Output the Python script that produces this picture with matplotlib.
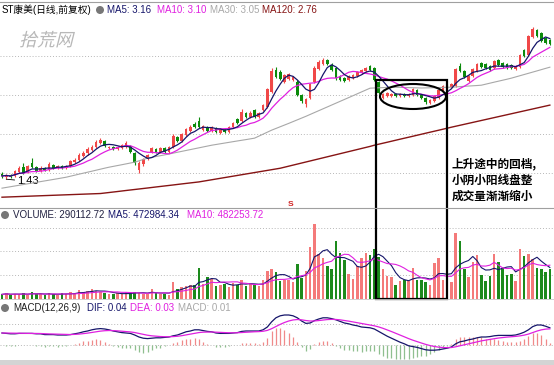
import numpy as np
import pandas as pd
import matplotlib
matplotlib.use("Agg")
import matplotlib.pyplot as plt
from matplotlib.patches import Rectangle, Ellipse, Circle, PathPatch
from matplotlib.lines import Line2D
from matplotlib.textpath import TextPath
from matplotlib.font_manager import FontProperties
from matplotlib.transforms import Affine2D, IdentityTransform

plt.rcParams['font.family'] = ['Liberation Sans', 'Noto Sans CJK SC', 'DejaVu Sans']

# daily candles
open_ = [1.495, 1.458, 1.483, 1.47, 1.52, 1.583, 1.52, 1.633, 1.583, 1.533,
         1.57, 1.545, 1.608, 1.57, 1.595, 1.57, 1.595, 1.645, 1.67, 1.72,
         1.758, 1.795, 1.833, 1.883, 1.908, 1.82, 1.833, 1.808, 1.82, 1.833,
         1.845, 1.758, 1.545, 1.62, 1.683, 1.77, 1.808, 1.77, 1.82, 1.77,
         1.833, 1.958, 1.908, 1.983, 2.033, 2.12, 2.158, 2.045, 2.083, 2.033,
         2.07, 2.008, 2.058, 2.02, 2.083, 2.183, 2.158, 2.258, 2.208, 2.295,
         2.208, 2.295, 2.333, 2.52, 2.795, 2.77, 2.645, 2.683, 2.67, 2.645,
         2.483, 2.37, 2.445, 2.645, 2.808, 2.87, 2.92, 2.858, 2.82, 2.72,
         2.695, 2.67, 2.695, 2.72, 2.758, 2.783, 2.845, 2.82, 2.645, 2.445,
         2.47, 2.47, 2.495, 2.47, 2.495, 2.47, 2.483, 2.545, 2.483, 2.445,
         2.383, 2.408, 2.445, 2.533, 2.608, 2.583, 2.595, 2.845, 2.783, 2.658,
         2.72, 2.783, 2.883, 2.87, 2.845, 2.82, 2.92, 2.883, 2.87, 2.858,
         2.808, 2.833, 3.045, 2.983, 3.208, 3.295, 3.258, 3.195, 3.17]
close = [1.47, 1.483, 1.458, 1.533, 1.57, 1.508, 1.595, 1.583, 1.533, 1.57,
         1.545, 1.62, 1.57, 1.595, 1.57, 1.595, 1.658, 1.67, 1.733, 1.758,
         1.808, 1.833, 1.895, 1.92, 1.845, 1.833, 1.808, 1.833, 1.858, 1.883,
         1.77, 1.633, 1.633, 1.683, 1.733, 1.82, 1.77, 1.82, 1.77, 1.833,
         1.97, 1.908, 1.995, 2.058, 2.083, 2.083, 2.083, 2.095, 2.033, 2.083,
         2.02, 2.058, 2.02, 2.083, 2.133, 2.133, 2.27, 2.208, 2.258, 2.208,
         2.258, 2.358, 2.558, 2.783, 2.708, 2.683, 2.733, 2.745, 2.708, 2.483,
         2.408, 2.433, 2.62, 2.82, 2.895, 2.92, 2.87, 2.795, 2.695, 2.67,
         2.658, 2.72, 2.733, 2.77, 2.795, 2.82, 2.795, 2.67, 2.508, 2.495,
         2.508, 2.495, 2.47, 2.495, 2.47, 2.495, 2.558, 2.483, 2.445, 2.395,
         2.42, 2.47, 2.545, 2.595, 2.57, 2.62, 2.808, 2.783, 2.708, 2.72,
         2.808, 2.87, 2.833, 2.82, 2.795, 2.908, 2.858, 2.833, 2.82, 2.82,
         2.845, 2.983, 2.97, 3.22, 3.308, 3.22, 3.158, 3.133, 3.12]
high = [1.52, 1.495, 1.495, 1.545, 1.595, 1.633, 1.608, 1.695, 1.595, 1.595,
        1.583, 1.645, 1.62, 1.608, 1.608, 1.608, 1.67, 1.695, 1.758, 1.783,
        1.833, 1.858, 1.92, 1.945, 1.92, 1.845, 1.845, 1.845, 1.87, 1.908,
        1.858, 1.77, 1.658, 1.695, 1.745, 1.833, 1.82, 1.833, 1.833, 1.845,
        1.995, 1.97, 2.008, 2.07, 2.108, 2.145, 2.208, 2.108, 2.095, 2.095,
        2.083, 2.07, 2.07, 2.095, 2.145, 2.195, 2.308, 2.27, 2.283, 2.308,
        2.27, 2.37, 2.57, 2.82, 2.833, 2.795, 2.745, 2.758, 2.72, 2.67,
        2.495, 2.445, 2.633, 2.845, 2.92, 2.945, 2.933, 2.883, 2.833, 2.733,
        2.708, 2.733, 2.745, 2.783, 2.808, 2.833, 2.858, 2.833, 2.658, 2.508,
        2.52, 2.508, 2.508, 2.508, 2.508, 2.508, 2.57, 2.558, 2.495, 2.458,
        2.433, 2.483, 2.558, 2.608, 2.62, 2.633, 2.82, 2.883, 2.795, 2.733,
        2.82, 2.883, 2.895, 2.883, 2.858, 2.92, 2.933, 2.895, 2.883, 2.87,
        2.858, 2.995, 3.058, 3.233, 3.333, 3.308, 3.27, 3.208, 3.183]
low = [1.445, 1.43, 1.445, 1.458, 1.508, 1.495, 1.508, 1.57, 1.52, 1.52,
       1.533, 1.533, 1.558, 1.558, 1.558, 1.558, 1.583, 1.633, 1.658, 1.708,
       1.733, 1.783, 1.82, 1.87, 1.833, 1.808, 1.795, 1.795, 1.808, 1.82,
       1.758, 1.608, 1.508, 1.595, 1.67, 1.758, 1.758, 1.758, 1.758, 1.758,
       1.82, 1.895, 1.895, 1.97, 2.02, 2.07, 2.07, 2.033, 2.02, 2.02,
       2.008, 1.995, 2.008, 2.008, 2.07, 2.12, 2.145, 2.195, 2.195, 2.195,
       2.195, 2.283, 2.32, 2.508, 2.695, 2.67, 2.633, 2.67, 2.658, 2.47,
       2.383, 2.333, 2.433, 2.633, 2.795, 2.858, 2.858, 2.783, 2.67, 2.658,
       2.645, 2.658, 2.683, 2.708, 2.745, 2.77, 2.783, 2.658, 2.495, 2.433,
       2.458, 2.458, 2.458, 2.458, 2.458, 2.458, 2.47, 2.47, 2.433, 2.37,
       2.37, 2.395, 2.433, 2.52, 2.558, 2.57, 2.583, 2.77, 2.695, 2.645,
       2.708, 2.77, 2.82, 2.808, 2.783, 2.808, 2.845, 2.82, 2.808, 2.808,
       2.795, 2.82, 2.958, 2.97, 3.195, 3.208, 3.145, 3.12, 3.108]
volume = [41200, 52600, 33400, 48900, 40300, 51800, 39700, 60500, 42100, 47600,
          31900, 50200, 43800, 39500, 52700, 41600, 61300, 49800, 80400, 62100,
          70900, 91200, 79600, 68800, 59700, 48600, 42300, 51400, 40800, 61900,
          50300, 69700, 58800, 47900, 43200, 90600, 51200, 40700, 49300, 38900,
          160400, 98700, 112300, 121800, 131500, 139600, 302100, 148800, 210700, 197300,
          121900, 132400, 140800, 118600, 152300, 139100, 181700, 128900, 143200, 138700,
          121300, 189600, 271500, 298700, 262400, 171300, 188900, 181200, 169800, 341500,
          208600, 272300, 519800, 741200, 449300, 401700, 329600, 291400, 579800, 451200,
          389700, 241300, 198600, 321800, 409500, 452600, 438900, 491200, 418300, 291700,
          229800, 211400, 139200, 171600, 188900, 179300, 301200, 189700, 181400, 168900,
          131200, 358700, 401200, 188700, 129600, 161300, 651800, 578400, 298600, 211300,
          361800, 438700, 231900, 178600, 221400, 442300, 369800, 301200, 238600, 241700,
          179300, 491800, 428600, 441200, 398700, 302400, 298300, 261700, 290112]
ma30 = [1.318, 1.327, 1.336, 1.345, 1.354, 1.364, 1.373, 1.382, 1.391, 1.400,
        1.409, 1.418, 1.427, 1.436, 1.446, 1.455, 1.468, 1.480, 1.493, 1.505,
        1.518, 1.530, 1.543, 1.555, 1.568, 1.580, 1.590, 1.601, 1.611, 1.622,
        1.632, 1.643, 1.660, 1.676, 1.693, 1.703, 1.714, 1.724, 1.734, 1.745,
        1.755, 1.766, 1.777, 1.788, 1.799, 1.810, 1.821, 1.833, 1.844, 1.855,
        1.864, 1.873, 1.881, 1.890, 1.899, 1.908, 1.916, 1.925, 1.934, 1.943,
        1.968, 1.993, 2.018, 2.043, 2.064, 2.086, 2.107, 2.128, 2.150, 2.171,
        2.193, 2.216, 2.240, 2.263, 2.286, 2.310, 2.333, 2.357, 2.380, 2.403,
        2.427, 2.450, 2.474, 2.497, 2.521, 2.544, 2.568, 2.570, 2.573, 2.575,
        2.578, 2.580, 2.579, 2.578, 2.576, 2.575, 2.573, 2.571, 2.570, 2.571,
        2.573, 2.574, 2.576, 2.577, 2.579, 2.580, 2.584, 2.587, 2.591, 2.594,
        2.598, 2.601, 2.605, 2.618, 2.630, 2.643, 2.655, 2.668, 2.680, 2.693,
        2.708, 2.723, 2.739, 2.754, 2.769, 2.784, 2.800, 2.815, 2.830]
ma120 = [1.205, 1.207, 1.209, 1.211, 1.213, 1.215, 1.217, 1.219, 1.221, 1.223,
         1.225, 1.227, 1.229, 1.231, 1.233, 1.235, 1.237, 1.239, 1.241, 1.243,
         1.245, 1.247, 1.249, 1.251, 1.257, 1.264, 1.270, 1.276, 1.283, 1.289,
         1.295, 1.302, 1.308, 1.314, 1.320, 1.327, 1.333, 1.339, 1.346, 1.352,
         1.358, 1.365, 1.371, 1.377, 1.383, 1.390, 1.396, 1.405, 1.414, 1.423,
         1.432, 1.441, 1.450, 1.459, 1.468, 1.477, 1.486, 1.495, 1.504, 1.513,
         1.522, 1.531, 1.540, 1.549, 1.558, 1.567, 1.580, 1.593, 1.606, 1.619,
         1.632, 1.645, 1.658, 1.671, 1.684, 1.697, 1.710, 1.723, 1.736, 1.749,
         1.762, 1.775, 1.788, 1.801, 1.814, 1.827, 1.840, 1.855, 1.867, 1.880,
         1.892, 1.905, 1.917, 1.930, 1.942, 1.955, 1.967, 1.980, 1.992, 2.005,
         2.017, 2.030, 2.042, 2.055, 2.068, 2.080, 2.092, 2.104, 2.116, 2.128,
         2.140, 2.152, 2.164, 2.176, 2.188, 2.200, 2.212, 2.224, 2.236, 2.248,
         2.260, 2.272, 2.284, 2.296, 2.308, 2.320, 2.332, 2.344, 2.356]
dif = [0.030, 0.029, 0.028, 0.028, 0.029, 0.029, 0.029, 0.029, 0.028, 0.028,
       0.026, 0.026, 0.026, 0.025, 0.025, 0.025, 0.026, 0.028, 0.030, 0.033,
       0.035, 0.038, 0.040, 0.041, 0.040, 0.038, 0.035, 0.033, 0.031, 0.030,
       0.029, 0.025, 0.020, 0.017, 0.016, 0.017, 0.018, 0.018, 0.019, 0.020,
       0.023, 0.025, 0.029, 0.033, 0.035, 0.038, 0.038, 0.036, 0.034, 0.033,
       0.030, 0.029, 0.029, 0.029, 0.030, 0.031, 0.034, 0.035, 0.035, 0.035,
       0.035, 0.038, 0.045, 0.058, 0.068, 0.073, 0.075, 0.075, 0.073, 0.068,
       0.060, 0.054, 0.055, 0.061, 0.065, 0.068, 0.068, 0.066, 0.063, 0.059,
       0.055, 0.053, 0.050, 0.048, 0.045, 0.044, 0.043, 0.040, 0.034, 0.028,
       0.022, 0.017, 0.012, 0.007, 0.003, -0.002, -0.004, -0.006, -0.009, -0.012,
       -0.013, -0.013, -0.012, -0.010, -0.008, -0.005, 0.003, 0.008, 0.010, 0.013,
       0.015, 0.018, 0.020, 0.020, 0.021, 0.023, 0.024, 0.024, 0.024, 0.024,
       0.025, 0.028, 0.032, 0.038, 0.046, 0.050, 0.050, 0.047, 0.043]

W, H = 554, 365
n = len(close)
idx = np.arange(n)
o = np.array(open_)
c = np.array(close)

ma5 = pd.Series(c).rolling(5, min_periods=1).mean()
ma10 = pd.Series(c).rolling(10, min_periods=1).mean()
vma5 = pd.Series(volume).rolling(5, min_periods=1).mean()
vma10 = pd.Series(volume).rolling(10, min_periods=1).mean()
dea = pd.Series(dif).ewm(span=9, adjust=False).mean()
hist = 2 * (np.array(dif) - dea.values)

RED, GREEN = '#f04848', '#0b8a0b'
NAVY, MAG, GRAY, DRED = '#15156a', '#e020e0', '#a8a8a8', '#861414'
up = c >= o
cols = [RED if u else GREEN for u in up]
vcols = ['#f47a7a' if u else '#1c8a1c' for u in up]

fig = plt.figure(figsize=(W / 100, H / 100), dpi=100)
fig.patch.set_facecolor('white')


def fy(y):
    return 1 - y / H


ax_p = fig.add_axes([0, fy(208), 1, (208 - 2) / H])
ax_v = fig.add_axes([0, fy(298.5), 1, (298.5 - 208) / H])
ax_m = fig.add_axes([0, fy(360), 1, (360 - 298.5) / H])
for ax in (ax_p, ax_v, ax_m):
    ax.set_xlim(-0.467, 128.97)
    ax.set_axis_off()

dot = dict(color='#b8b8b8', lw=0.7, ls=(0, (1, 2)), zorder=0)

# price panel
ax_p.set_ylim(1.07, 3.645)
for g in [2.97, 2.483, 1.995, 1.508]:
    ax_p.axhline(g, **dot)
ax_p.vlines(idx, low, high, colors=cols, lw=0.8, zorder=2)
ax_p.bar(idx, np.maximum(np.abs(c - o), 0.006), bottom=np.minimum(o, c),
         width=0.62, color=cols, lw=0, zorder=3)
ax_p.plot(idx, ma120, color=DRED, lw=1.0, zorder=4)
ax_p.plot(idx, ma30, color=GRAY, lw=0.8, zorder=4)
ax_p.plot(idx, ma10, color=MAG, lw=0.9, zorder=4)
ax_p.plot(idx, ma5, color=NAVY, lw=0.9, zorder=5)
ax_p.annotate('1.43', xy=(1, 1.43), xytext=(8, -1.5), textcoords='offset points',
              fontsize=8, ha='left', va='center',
              arrowprops=dict(arrowstyle='-', lw=0.6, color='black',
                              shrinkA=0, shrinkB=0))

# volume panel
ax_v.set_ylim(0, 905000)
for g in [235000, 475000, 705000]:
    ax_v.axhline(g, **dot)
ax_v.bar(idx, volume, width=0.6, color=vcols, lw=0, zorder=2)
ax_v.plot(idx, vma5, color=NAVY, lw=0.8, zorder=3)
ax_v.plot(idx, vma10, color=MAG, lw=0.8, zorder=3)

# macd panel
ax_m.set_ylim(-0.0375, 0.11625)
ax_m.axhline(0, **dot)
ax_m.axhline(0.0525, **dot)
hcols = ['#f08a8a' if h >= 0 else '#8fbf8f' for h in hist]
ax_m.vlines(idx, 0, hist, colors=hcols, lw=0.9, zorder=2)
ax_m.plot(idx, dif, color=NAVY, lw=0.9, zorder=3)
ax_m.plot(idx, dea, color=MAG, lw=0.9, zorder=3)

# frame lines and bottom band
ident = IdentityTransform()
fig.add_artist(Line2D([0, W], [H - 1.5, H - 1.5], color='#a0a0a0', lw=0.8, transform=ident))
fig.add_artist(Line2D([0, W], [H - 208, H - 208], color='#a0a0a0', lw=0.8, transform=ident))
fig.add_artist(Line2D([0, W], [H - 299, H - 299], color='#c8c8c8', lw=0.6, transform=ident))
fig.add_artist(Rectangle((0, 0), W, 5, transform=ident, fc='#d4d4d4', ec='none'))

# header labels
def label(x, y, s, color, **kw):
    fig.text(x / W, fy(y), s, color=color, fontsize=7, va='center', ha='left', **kw)


def icon(x, y):
    fig.add_artist(Circle((x, H - y), 4, transform=ident, fc='#777777', ec='none'))


label(2, 10, 'ST康美(日线,前复权)', 'black')
icon(100, 10)
label(107, 10, 'MA5: 3.16', NAVY)
label(157, 10, 'MA10: 3.10', MAG)
label(210, 10, 'MA30: 3.05', GRAY)
label(262, 10, 'MA120: 2.76', DRED)

icon(5, 215)
label(13, 215, 'VOLUME: 290112.72', '#202040')
label(108, 215, 'MA5: 472984.34', NAVY)
label(187, 215, 'MA10: 482253.72', MAG)

icon(5, 308)
label(13, 308, 'MACD(12,26,9)', '#202020')
label(87, 308, 'DIF: 0.04', NAVY)
label(130, 308, 'DEA: 0.03', MAG)
label(178, 308, 'MACD: 0.01', GRAY)

fig.text(291 / W, fy(204), 'S', color='#d02020', fontsize=6, fontweight='bold',
         ha='center', va='center')

# watermark, slanted
wm = TextPath((0, 0), '拾荒网', size=18, prop=FontProperties(family='Noto Sans CJK SC'))
fig.add_artist(PathPatch(wm, transform=Affine2D().skew_deg(14, 0).translate(19, H - 46),
                         fc='#b8b8b8', ec='none'))

# box + ellipse marking the pullback
fig.add_artist(Rectangle((376, H - 298.5), 71, 218.5, transform=ident,
                         fill=False, ec='black', lw=1.6))
fig.add_artist(Ellipse((413, H - 96.5), 66, 25, transform=ident,
                       fill=False, ec='black', lw=1.5))

for s, y in [('上升途中的回档,', 164), ('小阴小阳线盘整', 180), ('成交量渐渐缩小', 196)]:
    fig.text(452 / W, fy(y), s, fontsize=8.4, fontweight='bold', color='black',
             family=['Noto Sans CJK SC', 'DejaVu Sans'], va='center', ha='left')

fig.savefig('out.png', dpi=100, facecolor='white')
